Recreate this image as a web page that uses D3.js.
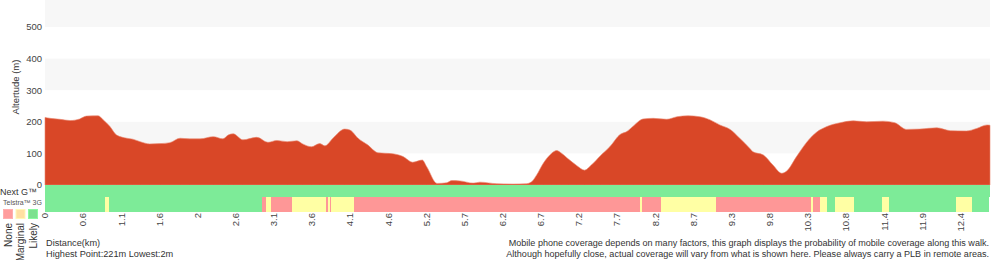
<!DOCTYPE html>
<html>
<head>
<meta charset="utf-8">
<script src="https://cdn.jsdelivr.net/npm/d3@7"></script>
<style>
  body { margin: 0; background: #fff; }
  svg { display: block; font-family: 'Liberation Sans', Arial, sans-serif; }
</style>
</head>
<body>
<svg id="chart" width="1000" height="260"></svg>
<script>
// elevation profile, [distance km, altitude m]
var distances = [0, 0.07, 0.20, 0.34, 0.47, 0.56, 0.72, 0.79, 0.88, 0.97, 1.11, 1.19, 1.29, 1.42, 1.56, 1.69,
  1.83, 1.96, 2.10, 2.28, 2.41, 2.48, 2.55, 2.68, 2.87, 3.02, 3.14, 3.28, 3.41, 3.49, 3.61, 3.72, 3.79, 3.90,
  4.06, 4.13, 4.24, 4.37, 4.51, 4.71, 4.85, 4.98, 5.11, 5.17, 5.31, 5.44, 5.51, 5.62, 5.80, 5.89, 6.12, 6.34,
  6.52, 6.59, 6.66, 6.75, 6.86, 6.93, 7.00, 7.09, 7.20, 7.31, 7.40, 7.52, 7.65, 7.79, 7.88, 7.97, 8.10, 8.24,
  8.42, 8.56, 8.71, 8.87, 9.01, 9.14, 9.28, 9.41, 9.55, 9.59, 9.73, 9.86, 9.98, 10.05, 10.18, 10.34, 10.45,
  10.59, 10.77, 10.95, 11.13, 11.35, 11.51, 11.67, 11.85, 12.08, 12.26, 12.48, 12.62, 12.76, 12.80];
var altitudes = [214, 211, 208, 204, 209, 218, 219, 206, 185, 158, 148, 145, 137, 130, 131, 134,
  148, 146, 146, 153, 146, 158, 162, 143, 151, 135, 141, 137, 140, 130, 121, 131, 124, 148,
  177, 174, 148, 127, 102, 99, 90, 72, 79, 58, 5, 7, 14, 13, 6, 9, 4, 3,
  4, 10, 32, 69, 100, 109, 100, 82, 62, 47, 63, 92, 121, 160, 169, 187, 209, 211,
  208, 216, 219, 216, 206, 190, 176, 148, 115, 105, 95, 63, 37, 45, 90, 142, 167,
  185, 197, 203, 200, 202, 197, 176, 177, 181, 172, 171, 179, 190, 189];

var totalKm = 12.8;
var yTicks = [0, 100, 200, 300, 400, 500];
var xTickLabels = ['0', '0.6', '1.1', '1.6', '2', '2.6', '3.1', '3.6', '4.1', '4.6', '5.2', '5.7', '6.2',
  '6.7', '7.2', '7.7', '8.2', '8.7', '9.3', '9.8', '10.3', '10.8', '11.4', '11.9', '12.4'];
var lastTickKm = 12.4;

// coverage runs: [start km, level]  0 none, 1 marginal, 2 likely
var coverageNextG = [[0, 2]];
var coverage3G = [[0, 2], [0.81, 1], [0.87, 2], [2.94, 0], [2.99, 1], [3.06, 0], [3.35, 1], [3.81, 0],
  [3.83, 1], [3.86, 0], [3.87, 1], [4.19, 0], [8.06, 1], [8.09, 0], [8.34, 1], [9.09, 0], [10.38, 1],
  [10.40, 0], [10.50, 1], [10.59, 2], [10.70, 1], [10.96, 2], [11.34, 1], [11.43, 2], [12.34, 1], [12.56, 2]];
var coverage3GEnd = 12.78;

var levelNames = ['None', 'Marginal', 'Likely'];
var levelColors = ['#fe9797', '#ffffa4', '#7deb98'];
var legendColors = ['#ff9c9c', '#ffe0a3', '#7ce18f'];

var svg = d3.select('#chart');
var plotLeft = 45, plotRight = 990, plotTop = -4.6, zeroY = 185;

var x = d3.scaleLinear().domain([0, totalKm]).range([plotLeft, plotRight]);
var y = d3.scaleLinear().domain([0, 600]).range([zeroY, plotTop]);

// alternating background bands
svg.append('g').selectAll('rect')
  .data([100, 300, 500])
  .enter().append('rect')
  .attr('x', plotLeft)
  .attr('y', function(d) { return y(d + 100); })
  .attr('width', plotRight - plotLeft)
  .attr('height', function(d) { return y(d) - y(d + 100); })
  .attr('fill', '#f7f7f7');

var profile = distances.map(function(d, i) { return [d, altitudes[i]]; });

var area = d3.area()
  .x(function(d) { return x(d[0]); })
  .y0(zeroY)
  .y1(function(d) { return y(d[1]); })
  .curve(d3.curveMonotoneX);

svg.append('path')
  .datum(profile)
  .attr('d', area)
  .attr('fill', '#d94727')
  .attr('stroke', '#e9866f')
  .attr('stroke-width', 0.6);

// y axis labels
svg.append('g').selectAll('text')
  .data(yTicks)
  .enter().append('text')
  .attr('x', 42)
  .attr('y', function(d) { return y(d); })
  .attr('dy', '0.35em')
  .attr('text-anchor', 'end')
  .attr('font-size', 9.5)
  .attr('fill', '#444')
  .text(function(d) { return d; });

svg.append('text')
  .attr('transform', 'translate(19,' + 87 + ') rotate(-90)')
  .attr('text-anchor', 'middle')
  .attr('font-size', 9.5)
  .attr('fill', '#333')
  .text('Altertude (m)');

// coverage rows
function runs(list, end) {
  return list.map(function(r, i) {
    return { from: r[0], to: i < list.length - 1 ? list[i + 1][0] : end, level: r[1] };
  });
}

function drawRow(list, end, y0, h) {
  svg.append('g').selectAll('rect')
    .data(runs(list, end))
    .enter().append('rect')
    .attr('x', function(d) { return x(d.from); })
    .attr('y', y0)
    .attr('width', function(d) { return x(d.to) - x(d.from); })
    .attr('height', h)
    .attr('fill', function(d) { return levelColors[d.level]; })
    .attr('shape-rendering', 'crispEdges');
}

drawRow(coverageNextG, totalKm, 185, 12);
drawRow(coverage3G, coverage3GEnd, 197, 15);

svg.append('text')
  .attr('x', 0)
  .attr('y', 195)
  .attr('font-size', 9)
  .attr('fill', '#333')
  .text('Next G\u2122');

svg.append('text')
  .attr('x', 3)
  .attr('y', 205)
  .attr('font-size', 7)
  .attr('fill', '#555')
  .text('Telstra\u2122 3G');

// legend
var legend = svg.append('g').selectAll('g')
  .data(levelNames)
  .enter().append('g')
  .attr('transform', function(d, i) { return 'translate(' + (3.5 + i * 12.5) + ',209.5)'; });

legend.append('rect')
  .attr('width', 9)
  .attr('height', 9)
  .attr('fill', function(d, i) { return legendColors[i]; })
  .attr('stroke', function(d, i) { return d3.color(legendColors[i]).brighter(0.3); })
  .attr('stroke-width', 1);

legend.append('text')
  .attr('transform', 'translate(4.5,13.5) rotate(-90)')
  .attr('dy', '0.35em')
  .attr('text-anchor', 'end')
  .attr('font-size', 10)
  .attr('fill', '#333')
  .text(function(d) { return d; });

// x axis labels
svg.append('g').selectAll('text')
  .data(xTickLabels)
  .enter().append('text')
  .attr('transform', function(d, i) {
    return 'translate(' + x(i * lastTickKm / (xTickLabels.length - 1)) + ',213) rotate(-90)';
  })
  .attr('dy', '0.35em')
  .attr('text-anchor', 'end')
  .attr('font-size', 9.5)
  .attr('fill', '#444')
  .text(function(d) { return d; });

svg.append('text')
  .attr('x', 46)
  .attr('y', 246)
  .attr('font-size', 9.2)
  .attr('fill', '#333')
  .text('Distance(km)');

svg.append('text')
  .attr('x', 46)
  .attr('y', 257)
  .attr('font-size', 9.2)
  .attr('fill', '#333')
  .text('Highest Point:221m Lowest:2m');

var notes = ['Mobile phone coverage depends on many factors, this graph displays the probability of mobile coverage along this walk.',
  'Although hopefully close, actual coverage will vary from what is shown here. Please always carry a PLB in remote areas.'];

svg.append('g').selectAll('text')
  .data(notes)
  .enter().append('text')
  .attr('x', 989)
  .attr('y', function(d, i) { return 246 + i * 11; })
  .attr('text-anchor', 'end')
  .attr('font-size', 9.05)
  .attr('fill', '#333')
  .text(function(d) { return d; });
</script>
</body>
</html>
